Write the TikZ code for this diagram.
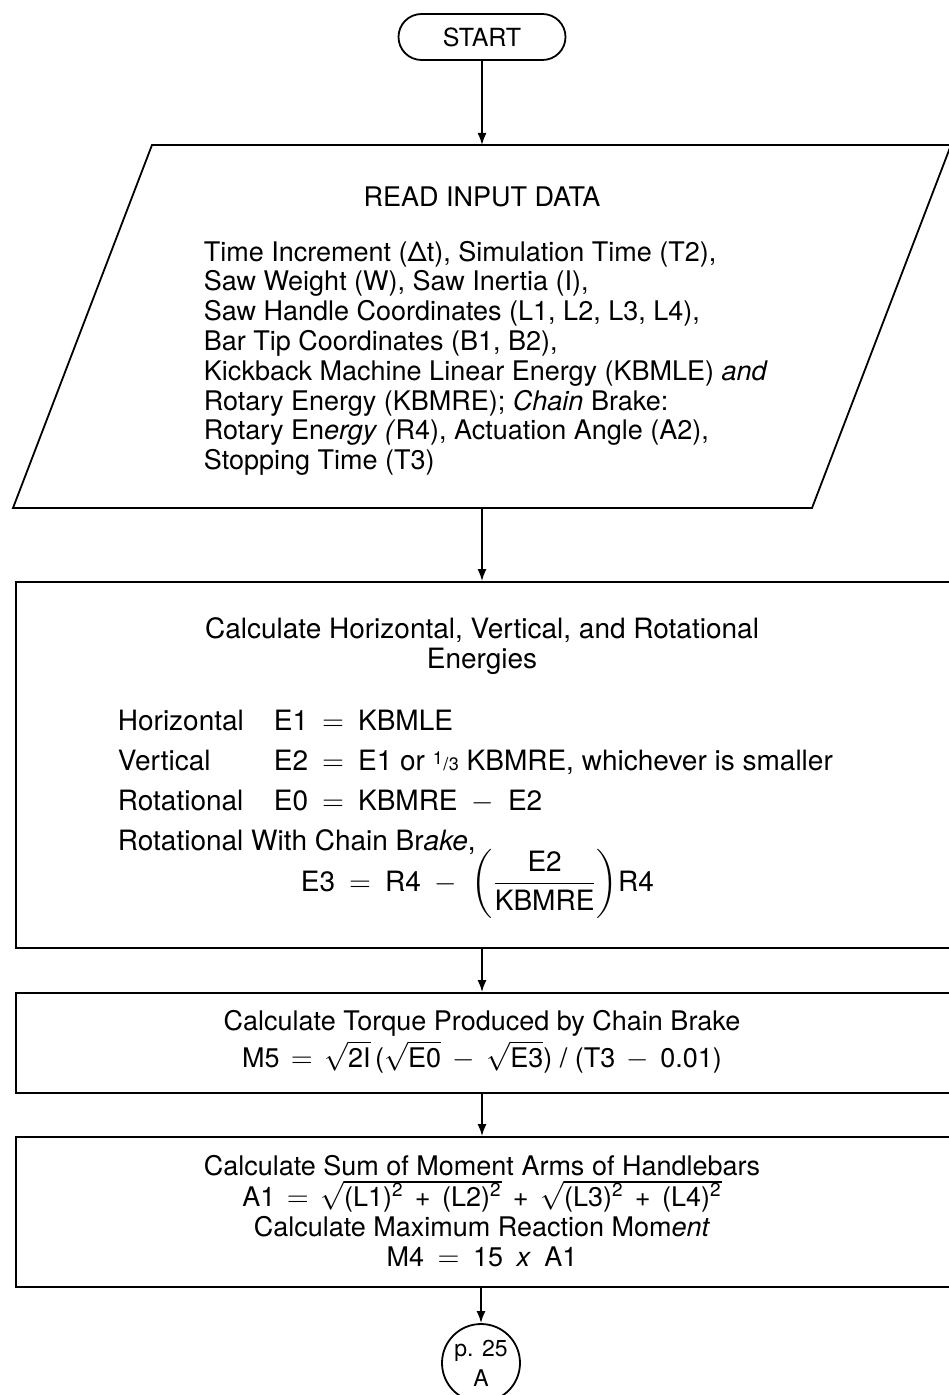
\documentclass[tikz,border=0pt]{standalone}
\usepackage{fontspec}
\setmainfont{TeX Gyre Heros}
\usepackage{amsmath}
\usetikzlibrary{calc}
\usetikzlibrary{positioning}
\usetikzlibrary{arrows.meta}
\tikzstyle{termnode} = [draw, rectangle, rounded corners=11.5pt, minimum width=83.5pt, minimum height=23pt, inner sep=0pt, font=\fontsize{12.5}{14}\selectfont]
\tikzstyle{procbox} = [draw, rectangle, minimum width=467pt, inner sep=0pt]
\tikzstyle{connnode} = [draw, circle, minimum size=39pt, inner sep=0pt, align=center, font=\fontsize{11.5}{15}\selectfont]
\tikzstyle{flowtext} = [inner sep=0pt, font=\fontsize{13.5}{14.9}\selectfont]
\tikzstyle{energytext} = [inner sep=0pt, font=\fontsize{14}{15}\selectfont]
\tikzstyle{flowline} = [-{Latex[length=6pt,width=4.5pt]}]
\newcommand{\onethird}{{\fontsize{9}{9}\selectfont\raisebox{0.55ex}{1}\kern0.03em/\kern0.03em 3}}
\newcommand{\eqs}{\hspace{0.5em}}
\newcommand{\eqn}{\hspace{0.42em}}
\newcommand{\rt}[1]{$\sqrt{\smash{\text{#1}}\vphantom{\text{E}}}$}

\begin{document}
\begin{tikzpicture}[x=0.5pt, y=-0.5pt, line width=0.9pt]
    \useasboundingbox (0,0) rectangle (948,1395);

    \node[termnode] (start) at (482,37) {START};

    \coordinate (io_nw) at (152,145);
    \coordinate (io_ne) at (951,145);
    \coordinate (io_se) at (812,508);
    \coordinate (io_sw) at (13,508);
    \draw (io_nw) -- (io_ne) -- (io_se) -- (io_sw) -- cycle;
    \coordinate (io_in) at (482,145);
    \coordinate (io_out) at (482,508);
    \node[flowtext] (io_title) at (482,197) {READ INPUT DATA};
    \node[flowtext, align=left, anchor=north west] (io_list) at (203,240) {Time Increment (Δt), Simulation Time (T2),\\
        Saw Weight (W), Saw Inertia (I),\\
        Saw Handle Coordinates (L1, L2, L3, L4),\\
        Bar Tip Coordinates (B1, B2),\\
        Kickback Machine Linear Energy (KBMLE) \textit{and}\\
        Rotary Energy (KBMRE); \textit{Chain} Brake:\\
        Rotary En\textit{ergy} \textit{(}R4), Actuation Angle (A2),\\
        Stopping Time (T3)};

    \node[procbox, minimum height=183pt] (energies) at (483,765) {};
    \node[energytext, align=center] (en_title) at (482,646) {Calculate Horizontal, Vertical, and Rotational\\ Energies};
    \node[energytext, anchor=base west] (lbl_h) at (117,730) {Horizontal};
    \node[energytext, anchor=base west] (eq_h) at (273,730) {E1\eqs$=$\eqs KBMLE};
    \node[energytext, anchor=base west] (lbl_v) at (117,770) {Vertical};
    \node[energytext, anchor=base west] (eq_v) at (273,770) {E2\eqs$=$\eqs E1 or \onethird\ KBMRE, whichever is smaller};
    \node[energytext, anchor=base west] (lbl_r) at (117,810) {Rotational};
    \node[energytext, anchor=base west] (eq_r) at (273,810) {E0\eqs$=$\eqs KBMRE\eqs$-$\eqs E2};
    \node[energytext, anchor=base west] (lbl_cb) at (117,850) {Rotational With Chain Br\textit{ake},};
    \node[energytext, anchor=base west] (eq_cb) at (300,891) {E3\eqs$=$\eqs R4\eqs$-$\eqs$\left(\dfrac{\text{E2}}{\text{KBMRE}}\right)$R4};

    \node[procbox, minimum height=50pt] (torque) at (483,1043) {};
    \node[flowtext, align=center] (torque_txt) at (482,1042) {Calculate Torque Produced by Chain Brake\\[1pt]
        M5\eqn$=$\eqn\rt{2I}\,(\rt{E0}\eqn$-$\eqn\rt{E3}) / (T3\eqn$-$\eqn 0.01)};

    \node[procbox, minimum height=75pt] (moments) at (483,1212) {};
    \node[flowtext, align=center] (moments_txt) at (482,1211) {Calculate Sum of Moment Arms of Handlebars\\[1pt]
        A1\eqn$=$\eqn\rt{(L1)\textsuperscript{2}\eqn+\eqn(L2)\textsuperscript{2}}\eqn+\eqn\rt{(L3)\textsuperscript{2}\eqn+\eqn(L4)\textsuperscript{2}}\\
        Calculate Maximum Reaction Mom\textit{ent}\\
        M4\eqs$=$\eqs 15\eqs\textit{x}\eqs A1};

    \node[connnode] (pageref) at (481,1363) {p. 25\\ A};

    \draw[flowline] (start) -- (io_in);
    \draw[flowline] (io_out) -- (io_out |- energies.north);
    \draw[flowline] (energies.south -| start) -- (torque.north -| start);
    \draw[flowline] (torque.south -| start) -- (moments.north -| start);
    \draw[flowline] (moments.south -| pageref) -- (pageref);
\end{tikzpicture}
\end{document}
